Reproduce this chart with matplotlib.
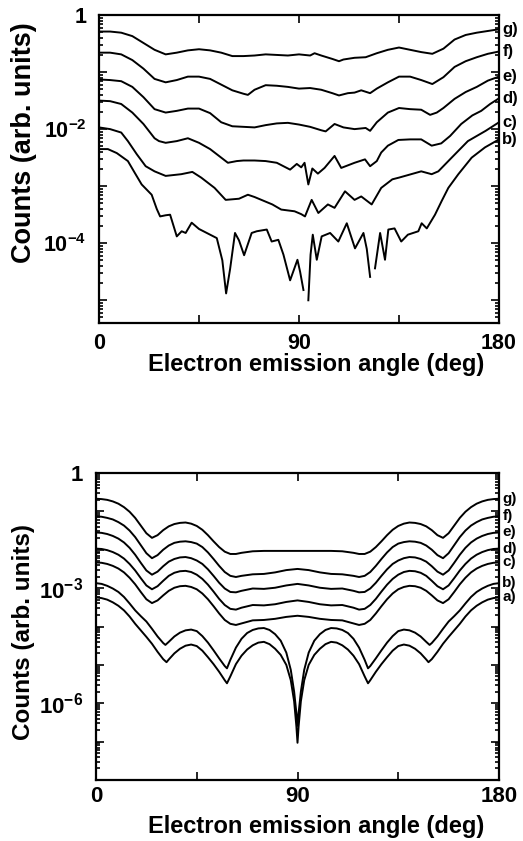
import numpy as np
import matplotlib
matplotlib.use('Agg')
import matplotlib.pyplot as plt
from matplotlib.ticker import FixedLocator, LogLocator, FuncFormatter, NullFormatter

nan = float('nan')

# ---- upper panel (measured), values are log10(counts) ----
ang_g_top = [0, 5, 10, 15, 20, 25, 30, 35, 40, 45, 50, 55, 60, 65, 70, 75, 80, 85, 90, 95, 97, 100,
             105, 108, 110, 115, 120, 125, 130, 135, 140, 145, 150, 155, 160, 165, 170, 175, 180]
log_g_top = [-0.29, -0.29, -0.31, -0.37, -0.49, -0.61, -0.69, -0.66, -0.62, -0.60, -0.62, -0.66, -0.72,
             -0.72, -0.71, -0.69, -0.70, -0.71, -0.69, -0.71, -0.67, -0.71, -0.77, -0.81, -0.78, -0.75,
             -0.74, -0.67, -0.61, -0.57, -0.61, -0.65, -0.68, -0.59, -0.43, -0.35, -0.31, -0.28, -0.25]

ang_f_top = [0, 5, 10, 15, 20, 25, 30, 35, 40, 45, 50, 55, 60, 65, 67, 70, 75, 80, 85, 90, 95, 100,
             105, 108, 112, 115, 118, 122, 125, 130, 135, 140, 145, 150, 155, 160, 165, 170, 175, 180]
log_f_top = [-0.66, -0.66, -0.69, -0.79, -0.94, -1.12, -1.18, -1.14, -1.08, -1.08, -1.12, -1.22, -1.32,
             -1.38, -1.40, -1.31, -1.23, -1.24, -1.26, -1.29, -1.28, -1.31, -1.37, -1.41, -1.37, -1.36,
             -1.32, -1.37, -1.29, -1.18, -1.08, -1.08, -1.14, -1.21, -1.09, -0.91, -0.81, -0.74, -0.68, -0.64]

ang_e_top = [0, 5, 10, 15, 20, 25, 30, 35, 40, 45, 50, 55, 60, 65, 70, 75, 80, 85, 90, 95, 100, 102,
             106, 110, 115, 120, 122, 125, 130, 135, 140, 145, 149, 152, 155, 160, 165, 170, 175, 180]
log_e_top = [-1.13, -1.14, -1.16, -1.26, -1.44, -1.65, -1.71, -1.68, -1.64, -1.64, -1.72, -1.88, -1.95,
             -1.96, -1.97, -1.93, -1.90, -1.89, -1.92, -1.96, -2.02, -2.04, -1.91, -1.97, -2.00, -1.98,
             -2.03, -1.88, -1.71, -1.63, -1.65, -1.66, -1.75, -1.71, -1.63, -1.47, -1.35, -1.26, -1.15, -1.08]

ang_d_top = [0, 5, 10, 15, 20, 25, 27, 30, 35, 40, 45, 50, 55, 58, 62, 65, 70, 75, 80, 86, 89, 91,
             92.5, 94.2, 96, 98.5, 101.5, 106, 109, 115, 119.7, 122, 125, 127, 130, 134.7, 140, 145,
             149.7, 154, 158, 163, 168, 172, 176, 180]
log_d_top = [-1.50, -1.51, -1.56, -1.71, -1.91, -2.16, -2.21, -2.24, -2.21, -2.16, -2.24, -2.35, -2.50,
             -2.59, -2.56, -2.55, -2.55, -2.56, -2.59, -2.71, -2.61, -2.67, -2.59, -2.97, -2.69, -2.78,
             -2.68, -2.47, -2.68, -2.59, -2.53, -2.65, -2.56, -2.41, -2.29, -2.19, -2.18, -2.18, -2.29,
             -2.25, -2.12, -1.91, -1.76, -1.68, -1.56, -1.46]

ang_c_top = [0, 5, 10, 13, 17, 21, 25, 30, 37, 42, 46, 52, 57, 63, 67, 70, 78, 82, 88, 91, 92.7, 95.7,
             98.7, 103, 106, 110.7, 115, 118, 122.7, 127, 132, 135, 145, 149.7, 152.7, 158.7, 166, 174, 180]
log_c_top = [-1.97, -2.00, -2.06, -2.21, -2.44, -2.65, -2.74, -2.82, -2.79, -2.75, -2.85, -3.03, -3.24,
             -3.22, -3.15, -3.19, -3.32, -3.41, -3.44, -3.49, -3.53, -3.24, -3.47, -3.32, -3.38, -3.09,
             -3.24, -3.18, -3.32, -3.03, -2.88, -2.85, -2.74, -2.79, -2.74, -2.50, -2.21, -2.03, -1.88]

ang_b_top = [0, 4, 8, 13, 16, 19.2, 23.7, 26, 27.5, 30, 32, 35, 37.2, 39, 41.7, 45, 48.5, 53, 55.5,
             57.2, 59, 61.2, 63, 65.3, 68.7, 71, 75.5, 77.7, 80.7, 83, 86, 89.3, 90.5, 92, 93, 94.2,
             95.2, 96.2, 98, 100.2, 104, 107.7, 111.5, 115.2, 119, 120.5, 122, 123, 124.2, 126.5,
             128.7, 130.2, 133, 136, 139, 143.7, 145.2, 147.5, 151.2, 154.2, 157.2, 161.7, 167.7,
             173.7, 180]
log_b_top = [-2.35, -2.35, -2.42, -2.56, -2.76, -2.97, -3.15, -3.40, -3.53, -3.51, -3.50, -3.88, -3.79,
             -3.82, -3.64, -3.75, -3.82, -3.91, -4.30, -4.88, -4.45, -3.82, -3.95, -4.21, -3.82, -3.79,
             -3.76, -3.97, -3.94, -4.20, -4.65, -4.29, -4.50, -4.82, nan, -5.00, -4.20, -3.85, -4.29,
             -3.88, -3.82, -3.97, -3.65, -4.09, -3.82, -4.10, -4.59, nan, -4.44, -3.82, -4.29, -3.76,
             -3.74, -3.97, -3.85, -3.79, -3.65, -3.74, -3.50, -3.26, -3.03, -2.79, -2.50, -2.32, -2.18]

# ---- lower panel (calculated), values are log10(counts) ----
ang_bot = [0, 2.5, 5, 7.5, 10, 12.5, 15, 17.5, 20, 22.5, 25, 27.5, 30, 32.5, 35, 37.5, 40, 42.5, 45,
           47.5, 50, 52.5, 55, 57.5, 60, 62.5, 65, 70, 75, 80, 85, 90,
           95, 100, 105, 110, 115, 117.5, 120, 122.5, 125, 127.5, 130, 132.5, 135, 137.5, 140, 142.5,
           145, 147.5, 150, 152.5, 155, 157.5, 160, 162.5, 165, 167.5, 170, 172.5, 175, 177.5, 180]
log_g_bot = [-0.67, -0.68, -0.70, -0.74, -0.80, -0.89, -1.01, -1.17, -1.37, -1.57, -1.69, -1.62, -1.49,
             -1.39, -1.33, -1.30, -1.29, -1.32, -1.38, -1.48, -1.62, -1.78, -1.93, -2.05, -2.11, -2.11,
             -2.08, -2.04, -2.03, -2.03, -2.03, -2.03,
             -2.03, -2.03, -2.03, -2.04, -2.08, -2.11, -2.11, -2.05, -1.93, -1.78, -1.62, -1.48, -1.38,
             -1.32, -1.29, -1.30, -1.33, -1.39, -1.49, -1.62, -1.69, -1.57, -1.37, -1.17, -1.01, -0.89,
             -0.80, -0.74, -0.70, -0.68, -0.67]
log_f_bot = [-1.13, -1.14, -1.17, -1.21, -1.28, -1.37, -1.50, -1.67, -1.88, -2.09, -2.22, -2.14, -2.00,
             -1.89, -1.82, -1.79, -1.78, -1.80, -1.84, -1.93, -2.07, -2.24, -2.42, -2.58, -2.68, -2.71,
             -2.68, -2.64, -2.63, -2.59, -2.53, -2.50,
             -2.53, -2.59, -2.63, -2.64, -2.68, -2.71, -2.68, -2.58, -2.42, -2.24, -2.07, -1.93, -1.84,
             -1.80, -1.78, -1.79, -1.82, -1.89, -2.00, -2.14, -2.22, -2.09, -1.88, -1.67, -1.50, -1.37,
             -1.28, -1.21, -1.17, -1.14, -1.13]
log_e_bot = [-1.55, -1.56, -1.59, -1.64, -1.71, -1.81, -1.95, -2.13, -2.34, -2.54, -2.65, -2.57, -2.43,
             -2.31, -2.24, -2.20, -2.19, -2.22, -2.28, -2.37, -2.51, -2.68, -2.86, -3.01, -3.10, -3.11,
             -3.07, -3.01, -3.02, -2.99, -2.93, -2.89,
             -2.93, -2.99, -3.02, -3.01, -3.07, -3.11, -3.10, -3.01, -2.86, -2.68, -2.51, -2.37, -2.28,
             -2.22, -2.19, -2.20, -2.24, -2.31, -2.43, -2.57, -2.65, -2.54, -2.34, -2.13, -1.95, -1.81,
             -1.71, -1.64, -1.59, -1.56, -1.55]
log_d_bot = [-1.97, -1.98, -2.01, -2.06, -2.13, -2.23, -2.37, -2.54, -2.74, -2.93, -3.03, -2.95, -2.81,
             -2.68, -2.60, -2.56, -2.55, -2.58, -2.65, -2.76, -2.91, -3.09, -3.28, -3.44, -3.54, -3.56,
             -3.51, -3.44, -3.45, -3.42, -3.36, -3.32,
             -3.36, -3.42, -3.45, -3.44, -3.51, -3.56, -3.54, -3.44, -3.28, -3.09, -2.91, -2.76, -2.65,
             -2.58, -2.55, -2.56, -2.60, -2.68, -2.81, -2.95, -3.03, -2.93, -2.74, -2.54, -2.37, -2.23,
             -2.13, -2.06, -2.01, -1.98, -1.97]
log_c_bot = [-2.33, -2.34, -2.37, -2.42, -2.49, -2.59, -2.73, -2.90, -3.10, -3.29, -3.39, -3.32, -3.19,
             -3.07, -2.99, -2.95, -2.94, -2.97, -3.03, -3.14, -3.29, -3.47, -3.66, -3.83, -3.93, -3.96,
             -3.92, -3.84, -3.83, -3.80, -3.75, -3.72,
             -3.75, -3.80, -3.83, -3.84, -3.92, -3.96, -3.93, -3.83, -3.66, -3.47, -3.29, -3.14, -3.03,
             -2.97, -2.94, -2.95, -2.99, -3.07, -3.19, -3.32, -3.39, -3.29, -3.10, -2.90, -2.73, -2.59,
             -2.49, -2.42, -2.37, -2.34, -2.33]

ang_b_bot = [0, 2.5, 5, 7.5, 10, 12.5, 15, 17.5, 20, 22.5, 25, 27.5, 30, 31, 32.5, 35, 37.5, 40, 42.5,
             45, 47.5, 50, 52.5, 55, 57.5, 58.5, 60, 62.5, 65, 67.5, 70, 72.5, 75, 77.5, 80, 82.5, 85,
             87, 88.5, 89.5, 90,
             90.5, 91.5, 93, 95, 97.5, 100, 102.5, 105, 107.5, 110, 112.5, 115, 117.5, 120, 121.5,
             122.5, 125, 127.5, 130, 132.5, 135, 137.5, 140, 142.5, 145, 147.5, 149, 150, 152.5, 155,
             157.5, 160, 162.5, 165, 167.5, 170, 172.5, 175, 177.5, 180]
log_b_bot = [-2.87, -2.89, -2.94, -3.01, -3.10, -3.23, -3.40, -3.58, -3.73, -3.87, -4.06, -4.26, -4.43,
             -4.48, -4.40, -4.26, -4.16, -4.10, -4.08, -4.12, -4.25, -4.42, -4.62, -4.83, -5.03, -5.09,
             -4.87, -4.55, -4.32, -4.17, -4.09, -4.05, -4.04, -4.09, -4.20, -4.37, -4.68, -5.13, -5.70,
             -6.25, -6.59,
             -6.25, -5.70, -5.13, -4.68, -4.37, -4.20, -4.09, -4.04, -4.05, -4.09, -4.17, -4.32, -4.55,
             -4.87, -5.09, -5.03, -4.83, -4.62, -4.42, -4.25, -4.12, -4.08, -4.10, -4.16, -4.26, -4.40,
             -4.48, -4.43, -4.26, -4.06, -3.87, -3.73, -3.58, -3.40, -3.23, -3.10, -3.01, -2.94, -2.89,
             -2.87]

ang_a_bot = [0, 2.5, 5, 7.5, 10, 12.5, 15, 17.5, 20, 22.5, 25, 27.5, 30, 31.5, 32.5, 35, 37.5, 40, 42.5,
             45, 47.5, 50, 52.5, 55, 57.5, 58.5, 60, 62.5, 65, 67.5, 70, 72.5, 75, 77.5, 80, 82.5, 85,
             87, 88.5, 89.5, 90,
             90.5, 91.5, 93, 95, 97.5, 100, 102.5, 105, 107.5, 110, 112.5, 115, 117.5, 120, 121.5,
             122.5, 125, 127.5, 130, 132.5, 135, 137.5, 140, 142.5, 145, 147.5, 148.5, 150, 152.5, 155,
             157.5, 160, 162.5, 165, 167.5, 170, 172.5, 175, 177.5, 180]
log_a_bot = [-3.24, -3.26, -3.30, -3.37, -3.46, -3.58, -3.74, -3.93, -4.10, -4.27, -4.45, -4.66, -4.85,
             -4.93, -4.86, -4.70, -4.58, -4.50, -4.47, -4.51, -4.63, -4.80, -4.98, -5.18, -5.40, -5.48,
             -5.30, -4.98, -4.76, -4.60, -4.49, -4.42, -4.40, -4.46, -4.58, -4.74, -5.00, -5.40, -5.95,
             -6.60, -7.03,
             -6.60, -5.95, -5.40, -5.00, -4.74, -4.58, -4.46, -4.40, -4.42, -4.49, -4.60, -4.76, -4.98,
             -5.30, -5.48, -5.40, -5.18, -4.98, -4.80, -4.63, -4.51, -4.47, -4.50, -4.58, -4.70, -4.86,
             -4.93, -4.85, -4.66, -4.45, -4.27, -4.10, -3.93, -3.74, -3.58, -3.46, -3.37, -3.30, -3.26,
             -3.24]

top_curves = [('g)', ang_g_top, log_g_top), ('f)', ang_f_top, log_f_top), ('e)', ang_e_top, log_e_top),
              ('d)', ang_d_top, log_d_top), ('c)', ang_c_top, log_c_top), ('b)', ang_b_top, log_b_top)]
bot_curves = [('g)', ang_bot, log_g_bot), ('f)', ang_bot, log_f_bot), ('e)', ang_bot, log_e_bot),
              ('d)', ang_bot, log_d_bot), ('c)', ang_bot, log_c_bot), ('b)', ang_b_bot, log_b_bot),
              ('a)', ang_a_bot, log_a_bot)]

plt.rcParams['font.family'] = 'Liberation Sans'
plt.rcParams['font.weight'] = 'bold'
plt.rcParams['mathtext.fontset'] = 'custom'
plt.rcParams['mathtext.rm'] = 'Liberation Sans:bold'
plt.rcParams['mathtext.it'] = 'Liberation Sans:bold'
plt.rcParams['mathtext.bf'] = 'Liberation Sans:bold'


def decade_label(v, labelled):
    e = int(round(np.log10(v)))
    if e not in labelled:
        return ''
    if e == 0:
        return '1'
    return r'$10^{%d}$' % e


def setup(ax, ylo, lowest_exp, labelled, ticksize, xpad):
    ax.set_yscale('log')
    ax.set_xlim(0, 180)
    ax.set_ylim(ylo, 1)
    ax.set_xticks([0, 45, 90, 135, 180])
    ax.set_xticklabels(['0', '', '90', '', '180'])
    ax.yaxis.set_major_locator(FixedLocator([10.0 ** e for e in range(lowest_exp, 1)]))
    ax.yaxis.set_major_formatter(FuncFormatter(lambda v, p: decade_label(v, labelled)))
    ax.yaxis.set_minor_locator(LogLocator(base=10, subs=np.arange(2, 10), numticks=30))
    ax.yaxis.set_minor_formatter(NullFormatter())
    ax.tick_params(which='both', direction='in', top=True, right=True, width=1.2)
    ax.tick_params(which='major', length=6, labelsize=ticksize)
    ax.tick_params(axis='x', which='major', pad=xpad)
    ax.tick_params(axis='y', which='major', pad=9)
    ax.tick_params(which='minor', length=3)
    for s in ax.spines.values():
        s.set_linewidth(1.6)


def draw(ax, curves, labsize):
    for name, ang, lg in curves:
        ax.plot(ang, 10.0 ** np.array(lg), color='black', lw=1.4)
        ax.text(181.5, 10.0 ** lg[-1], name, fontsize=labsize, ha='left', va='center',
                clip_on=False)


fig = plt.figure(figsize=(5.23, 8.41), dpi=100)
W, H = 523.0, 841.0

ax1 = fig.add_axes([99 / W, 1 - 323 / H, 400 / W, 308 / H])
setup(ax1, 4e-6, -5, (0, -2, -4), 15.5, 7)
draw(ax1, top_curves, 12)
fig.text(24 / W, 1 - 143 / H, 'Counts (arb. units)', rotation=90, ha='center', va='center',
         fontsize=19.5)
fig.text(316 / W, 1 - 371 / H, 'Electron emission angle (deg)', ha='center', va='baseline',
         fontsize=17)

ax2 = fig.add_axes([96 / W, 1 - 780 / H, 403 / W, 307 / H])
setup(ax2, 1e-8, -8, (0, -3, -6), 16, 4)
draw(ax2, bot_curves, 11)
fig.text(24 / W, 1 - 632 / H, 'Counts (arb. units)', rotation=90, ha='center', va='center',
         fontsize=17.5)
fig.text(316 / W, 1 - 833 / H, 'Electron emission angle (deg)', ha='center', va='baseline',
         fontsize=17)

fig.savefig('out.png', dpi=100)
